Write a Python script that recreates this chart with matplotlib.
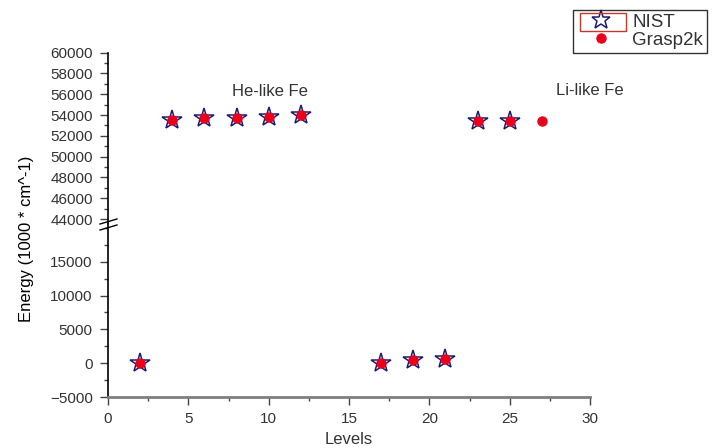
import matplotlib.pyplot as plt
from matplotlib.lines import Line2D
from matplotlib.patches import Rectangle
from matplotlib.ticker import MultipleLocator

plt.rcParams["font.family"] = ["Liberation Sans", "DejaVu Sans"]

# level index and energies
nist_levels = [2, 4, 6, 8, 10, 12, 17, 19, 21, 23, 25]
nist_energy = [0, 53500, 53700, 53750, 53850, 54000, 0, 400, 550, 53400, 53400]

grasp_levels = [2, 4, 6, 8, 10, 12, 17, 19, 21, 23, 25, 27]
grasp_energy = [0, 53500, 53700, 53750, 53850, 54000, 0, 400, 550, 53400, 53400, 53400]

TXT = "#333333"
STAR = "#1c1c6e"
RED = "#e8001c"

fig = plt.figure(figsize=(7.22, 4.48), dpi=100)
W, H = 722, 448


def px_axes(x0, y0, x1, y1):
    return fig.add_axes([x0 / W, 1 - y1 / H, (x1 - x0) / W, (y1 - y0) / H])


ax_top = px_axes(108, 52.7, 590, 224)
ax_bot = px_axes(108, 224, 590, 397)

for ax in (ax_top, ax_bot):
    ax.plot(nist_levels, nist_energy, linestyle="none", marker="*", markersize=15,
            markerfacecolor="none", markeredgecolor=STAR, markeredgewidth=1.1, zorder=3)
    ax.plot(grasp_levels, grasp_energy, linestyle="none", marker="o", markersize=6.5,
            markerfacecolor=RED, markeredgecolor=RED, zorder=4)
    ax.set_xlim(0, 30)
    ax.spines["top"].set_visible(False)
    ax.spines["right"].set_visible(False)
    ax.spines["left"].set_color("black")
    ax.spines["left"].set_linewidth(1.2)
    ax.tick_params(axis="both", which="major", direction="out", length=6, width=1,
                   labelsize=11, labelcolor=TXT, color="#444444", pad=5)
    ax.tick_params(axis="both", which="minor", direction="out", length=3, width=1,
                   color="#444444")

ax_top.set_ylim(43520, 60000)
ax_top.yaxis.set_minor_locator(MultipleLocator(1000))
ax_top.set_yticks(range(44000, 60001, 2000))
ax_top.spines["bottom"].set_visible(False)
ax_top.tick_params(axis="x", which="both", bottom=False, labelbottom=False)

ax_bot.set_ylim(-5000, 20585)
ax_bot.yaxis.set_minor_locator(MultipleLocator(2500))
ax_bot.set_yticks(range(-5000, 15001, 5000))
ax_bot.xaxis.set_major_locator(MultipleLocator(5))
ax_bot.xaxis.set_minor_locator(MultipleLocator(2.5))
ax_bot.spines["bottom"].set_color("#7f7f7f")
ax_bot.spines["bottom"].set_linewidth(2)
ax_bot.set_xlabel("Levels", fontsize=12, color=TXT, labelpad=4)

fig.text(27 / W, 1 - 239 / H, "Energy (1000 * cm^-1)", rotation=90, ha="center",
         va="center", fontsize=12, color="black")

# axis break marks
for y0 in (224, 230):
    fig.add_artist(Line2D([100 / W, 117 / W], [1 - y0 / H, 1 - (y0 - 5) / H],
                          color="black", lw=1))

ax_top.text(10.1, 56250, "He-like Fe", ha="center", va="center", fontsize=12, color=TXT)
ax_top.text(30, 56400, "Li-like Fe", ha="center", va="center", fontsize=12, color=TXT,
            clip_on=False)

handles = [
    Line2D([], [], linestyle="none", marker="*", markersize=14, markerfacecolor="none",
           markeredgecolor=STAR, markeredgewidth=1.1),
    Line2D([], [], linestyle="none", marker="o", markersize=6.5, markerfacecolor=RED,
           markeredgecolor=RED),
]
leg = fig.legend(handles, ["NIST", "Grasp2k"], loc="upper left",
                 bbox_to_anchor=(573 / W, 1 - 10 / H), fontsize=13.5, frameon=True,
                 fancybox=False, edgecolor="black", borderpad=0.2, labelspacing=0.05,
                 handlelength=2.6, handletextpad=0.35, borderaxespad=0)
leg.get_frame().set_linewidth(1)
leg.set_zorder(5)
for t in leg.get_texts():
    t.set_color(TXT)

fig.add_artist(Rectangle((580 / W, 1 - 31 / H), 46 / W, 18 / H, fill=False,
                         edgecolor="#c0392b", lw=1, transform=fig.transFigure,
                         zorder=10))

fig.savefig("out.png", dpi=100)
